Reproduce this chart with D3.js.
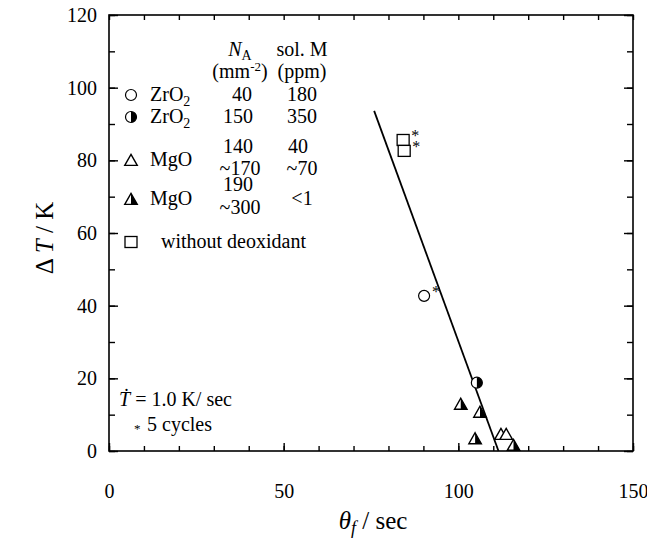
<!DOCTYPE html>
<html>
<head>
<meta charset="utf-8">
<script src="https://cdn.jsdelivr.net/npm/d3@7/dist/d3.min.js"></script>
<style>
body { margin: 0; background: #fff; }
text { font-family: "Liberation Serif", "Times New Roman", serif; fill: #000; }
</style>
</head>
<body>
<script>
// data (theta_f in sec, deltaT in K)
var openCircle = [[90.2, 42.7]];
var halfCircle = [[105.3, 18.8]];
var openTriangle = [[112.2, 4.4], [113.7, 4.4]];
var halfTriangle = [[100.7, 12.7], [106.2, 10.5], [104.8, 3.2], [115.8, 1.4]];
var squares = [[84.2, 85.6], [84.5, 82.6]];
var starred = [[90.2, 42.7], [84.2, 85.6], [84.5, 82.6]];
var fitLine = [[75.9, 93.6], [111.5, 0]];

var xMajor = [0, 50, 100, 150];
var yMajor = [0, 20, 40, 60, 80, 100, 120];
var xMinor = d3.range(0, 151, 10);
var yMinor = d3.range(0, 121, 10);

var width = 647, height = 540;
var mLeft = 109, mRight = 633, mTop = 15, mBottom = 451;

var svg = d3.select("body").append("svg")
    .attr("width", width)
    .attr("height", height);

var x = d3.scaleLinear().domain([0, 150]).range([mLeft, mRight]);
var y = d3.scaleLinear().domain([0, 120]).range([mBottom, mTop]);

function styleAxis(g) {
    g.select(".domain").remove();
    g.selectAll("line").attr("stroke", "#000").attr("stroke-width", 1.4);
    g.selectAll("text").style("font-size", "20px").style("font-family", "Liberation Serif");
}

// minor ticks on all four sides
svg.append("g").attr("transform", "translate(0," + mBottom + ")")
    .call(d3.axisBottom(x).tickValues(xMinor).tickSize(-5).tickFormat(""))
    .call(styleAxis);
svg.append("g").attr("transform", "translate(0," + mTop + ")")
    .call(d3.axisTop(x).tickValues(xMinor).tickSize(-5).tickFormat(""))
    .call(styleAxis);
svg.append("g").attr("transform", "translate(" + mLeft + ",0)")
    .call(d3.axisLeft(y).tickValues(yMinor).tickSize(-6).tickFormat(""))
    .call(styleAxis);
svg.append("g").attr("transform", "translate(" + mRight + ",0)")
    .call(d3.axisRight(y).tickValues(yMinor).tickSize(-6).tickFormat(""))
    .call(styleAxis);

// major ticks with labels
svg.append("g").attr("transform", "translate(0," + mBottom + ")")
    .call(d3.axisBottom(x).tickValues(xMajor).tickSize(-8).tickFormat(d3.format("d")))
    .call(styleAxis)
    .selectAll("text").attr("y", 33);
svg.append("g").attr("transform", "translate(" + mLeft + ",0)")
    .call(d3.axisLeft(y).tickValues(yMajor).tickSize(-9).tickFormat(d3.format("d")))
    .call(styleAxis)
    .selectAll("text").attr("x", -12);
svg.append("g").attr("transform", "translate(" + mRight + ",0)")
    .call(d3.axisRight(y).tickValues(yMajor).tickSize(-9).tickFormat(""))
    .call(styleAxis);

// frame
svg.append("rect")
    .attr("x", mLeft).attr("y", mTop)
    .attr("width", mRight - mLeft).attr("height", mBottom - mTop)
    .attr("fill", "none").attr("stroke", "#000").attr("stroke-width", 1.6);

// axis titles
var xt = svg.append("text")
    .attr("x", 373).attr("y", 529)
    .attr("text-anchor", "middle")
    .style("font-size", "25px");
xt.append("tspan").attr("font-style", "italic").text("θ");
xt.append("tspan").attr("font-style", "italic").attr("font-size", "18px").attr("dy", 5).text("f");
xt.append("tspan").attr("dy", -5).text(" / sec");

var yt = svg.append("text")
    .attr("transform", "translate(53,238) rotate(-90)")
    .attr("text-anchor", "middle")
    .style("font-size", "25px");
yt.append("tspan").text("Δ ");
yt.append("tspan").attr("font-style", "italic").text("T");
yt.append("tspan").text(" / K");

// fitted line
svg.append("path")
    .datum(fitLine)
    .attr("d", d3.line().x(function (d) { return x(d[0]); }).y(function (d) { return y(d[1]); }))
    .attr("fill", "none").attr("stroke", "#000").attr("stroke-width", 1.8);

// marker drawers
var R = 6;
function drawCircle(g, cx, cy, half) {
    g.append("circle").attr("cx", cx).attr("cy", cy).attr("r", R - 0.5)
        .attr("fill", "#fff").attr("stroke", "#000").attr("stroke-width", 1.2);
    if (half) {
        g.append("path")
            .attr("d", "M" + cx + "," + (cy - R + 0.5) + " A" + (R - 0.5) + "," + (R - 0.5) + " 0 0 1 " + cx + "," + (cy + R - 0.5) + " Z")
            .attr("fill", "#000");
    }
}
function drawTriangle(g, cx, cy, half) {
    var h = 11, w = 12.5;
    var ty = cy - h * 0.6, by = cy + h * 0.4;
    g.append("path")
        .attr("d", "M" + cx + "," + ty + " L" + (cx + w / 2) + "," + by + " L" + (cx - w / 2) + "," + by + " Z")
        .attr("fill", "#fff").attr("stroke", "#000").attr("stroke-width", 1.4).attr("stroke-linejoin", "miter");
    if (half) {
        g.append("path")
            .attr("d", "M" + cx + "," + ty + " L" + (cx + w / 2) + "," + by + " L" + cx + "," + by + " Z")
            .attr("fill", "#000");
    }
}
function drawSquare(g, cx, cy) {
    g.append("rect").attr("x", cx - 6).attr("y", cy - 5.5).attr("width", 12).attr("height", 11)
        .attr("fill", "#fff").attr("stroke", "#000").attr("stroke-width", 1.3);
}

var marks = svg.append("g");
squares.forEach(function (d) { drawSquare(marks, x(d[0]), y(d[1])); });
openCircle.forEach(function (d) { drawCircle(marks, x(d[0]), y(d[1]), false); });
halfCircle.forEach(function (d) { drawCircle(marks, x(d[0]), y(d[1]), true); });
openTriangle.forEach(function (d) { drawTriangle(marks, x(d[0]), y(d[1]), false); });
halfTriangle.forEach(function (d) { drawTriangle(marks, x(d[0]), y(d[1]), true); });

// asterisks for 5-cycle runs
svg.selectAll(".star")
    .data(starred)
    .enter().append("text")
    .attr("x", function (d) { return x(d[0]) + 8; })
    .attr("y", function (d) { return y(d[1]) + 1; })
    .style("font-size", "16px")
    .style("fill", "#000")
    .text("*");

// legend
var lg = svg.append("g").style("font-size", "20px");
var colNA = 240, colM = 302, mx = 131, nameX = 150;

var h1 = lg.append("text").attr("x", colNA).attr("y", 56).attr("text-anchor", "middle");
h1.append("tspan").attr("font-style", "italic").text("N");
h1.append("tspan").attr("font-size", "14px").attr("dy", 4).text("A");
lg.append("text").attr("x", colM).attr("y", 56).attr("text-anchor", "middle").text("sol. M");
var h2 = lg.append("text").attr("x", colNA).attr("y", 78).attr("text-anchor", "middle");
h2.append("tspan").text("(mm");
h2.append("tspan").attr("font-size", "13px").attr("dy", -7).text("-2");
h2.append("tspan").attr("dy", 7).text(")");
lg.append("text").attr("x", colM).attr("y", 78).attr("text-anchor", "middle").text("(ppm)");

function oxide(yy, base, sub) {
    var t = lg.append("text").attr("x", nameX).attr("y", yy);
    t.append("tspan").text(base);
    if (sub) t.append("tspan").attr("font-size", "14px").attr("dy", 5).text(sub);
}
function cell(cx, yy, s) {
    lg.append("text").attr("x", cx).attr("y", yy).attr("text-anchor", "middle").text(s);
}

drawCircle(lg, mx, 95, false);
oxide(101, "ZrO", "2"); cell(colNA + 2, 101, "40"); cell(colM, 101, "180");
drawCircle(lg, mx, 117, true);
oxide(123, "ZrO", "2"); cell(colNA - 2, 123, "150"); cell(colM, 123, "350");
drawTriangle(lg, mx, 161, false);
oxide(166, "MgO"); cell(colNA - 2, 153, "140"); cell(colNA, 175, "~170");
cell(colM - 4, 153, "40"); cell(colM, 175, "~70");
drawTriangle(lg, mx, 200, true);
oxide(205, "MgO"); cell(colNA - 2, 191, "190"); cell(colNA, 214, "~300");
cell(colM, 205, "<1");
drawSquare(lg, mx, 242);
lg.append("text").attr("x", nameX + 11).attr("y", 248).text("without deoxidant");

// rate note
var note = svg.append("g").style("font-size", "20px");
var n1 = note.append("text").attr("x", 119).attr("y", 406);
n1.append("tspan").attr("font-style", "italic").text("Ṫ");
n1.append("tspan").text(" = 1.0 K/ sec");
note.append("text").attr("x", 134).attr("y", 433).style("font-size", "13px").style("fill", "#000").text("*");
note.append("text").attr("x", 147).attr("y", 431).text("5 cycles");
</script>
</body>
</html>
